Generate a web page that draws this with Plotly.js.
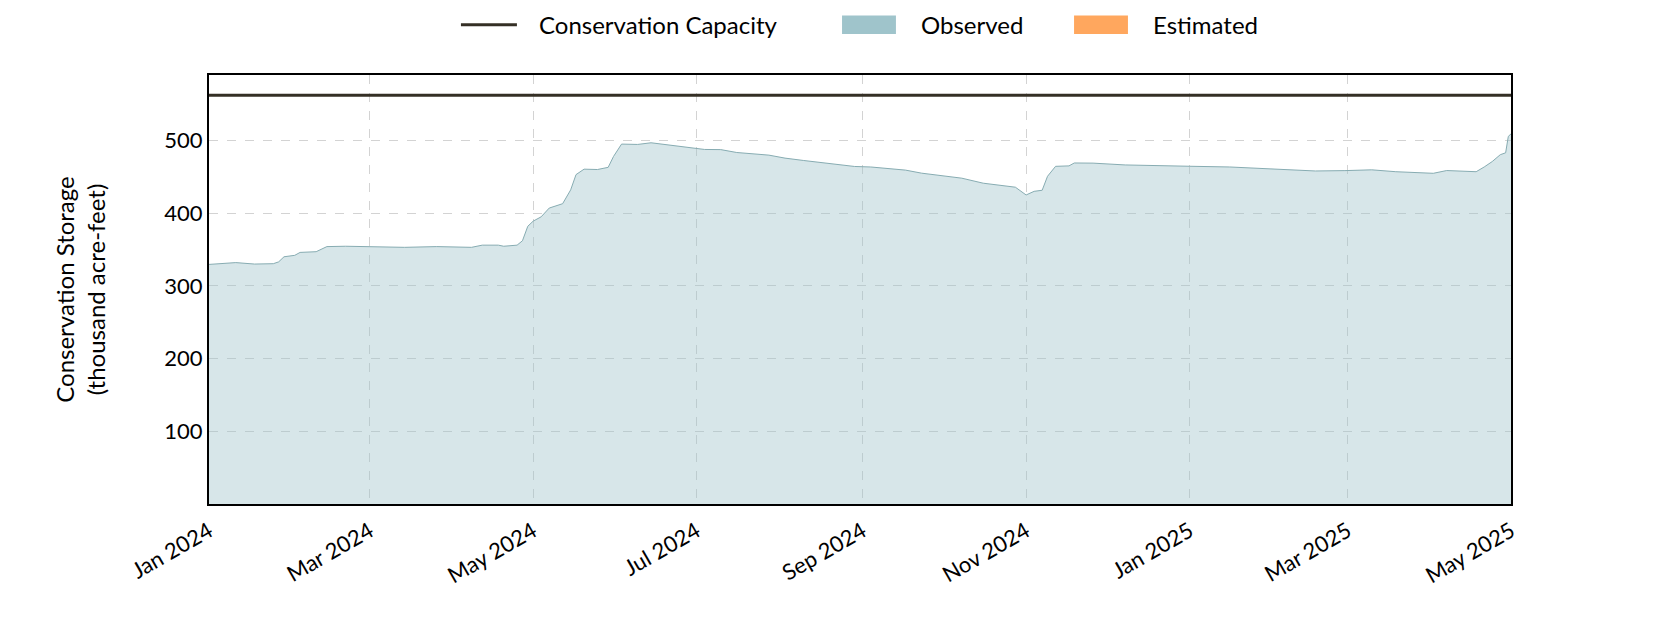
<!DOCTYPE html>
<html>
<head>
<meta charset="utf-8">
<script src="https://cdn.plot.ly/plotly-3.0.1.min.js"></script>
<style>
  body { margin: 0; background: #fff; }
  #chart { width: 1680px; height: 630px; }
</style>
</head>
<body>
<div id="chart"></div>
<script>
// observed conservation storage, thousand acre-feet
const obsDates = [
  '2024-01-01', '2024-01-11', '2024-01-18', '2024-01-25', '2024-01-27', '2024-01-29',
  '2024-02-02', '2024-02-04', '2024-02-10', '2024-02-14', '2024-02-21', '2024-02-27',
  '2024-03-14', '2024-03-26', '2024-04-08', '2024-04-12', '2024-04-18', '2024-04-20',
  '2024-04-25', '2024-04-27', '2024-04-29', '2024-05-01', '2024-05-04', '2024-05-07',
  '2024-05-11', '2024-05-12', '2024-05-15', '2024-05-17', '2024-05-20', '2024-05-25',
  '2024-05-29', '2024-05-31', '2024-06-03', '2024-06-09', '2024-06-14', '2024-06-20',
  '2024-06-28', '2024-07-04', '2024-07-10', '2024-07-16', '2024-07-28', '2024-08-03',
  '2024-08-10', '2024-08-19', '2024-08-29', '2024-09-04', '2024-09-17', '2024-09-23',
  '2024-10-08', '2024-10-16', '2024-10-23', '2024-10-28', '2024-11-01',
  '2024-11-04', '2024-11-07', '2024-11-09', '2024-11-12', '2024-11-17',
  '2024-11-19', '2024-11-26', '2024-12-08', '2024-12-21', '2025-01-01', '2025-01-16',
  '2025-02-01', '2025-02-17', '2025-02-28', '2025-03-10', '2025-03-19', '2025-04-02',
  '2025-04-07', '2025-04-18', '2025-04-21', '2025-04-24', '2025-04-27', '2025-04-29',
  '2025-04-30', '2025-05-01'
];
const obsStorage = [
  329.5, 332, 330, 330.5, 333, 340,
  342, 346, 347, 354, 354.5, 354,
  353, 354, 353, 356, 356, 354.5,
  356, 362, 382, 389, 395, 407,
  412, 413, 432, 453, 460.5, 460,
  463, 478, 495, 494.5, 496.8, 494,
  490.3, 487.6, 487.4, 483.4, 479.8, 475.7,
  472.4, 468.3, 464.2, 463.5, 459.2, 455,
  448.1, 441.2, 438, 435.7, 425,
  430, 431.5, 450.7, 464.4, 465,
  469, 468.8, 466.3, 465, 464.5, 463.5,
  461.2, 458, 458.5, 459.6, 457, 454.8,
  458.6, 457, 463.5, 471, 480.4, 483,
  505.6, 509
];

// no estimated values in this period
const estDates = [];
const estStorage = [];

const capacityDates = ['2024-01-01', '2025-05-01'];
const capacity = [562, 562];

const yTicks = [100, 200, 300, 400, 500];

const capColor = '#342f25';
const obsColor = '#9fc4cb';
const estColor = '#ffa75e';

const font = 'Lato, "Noto Sans", sans-serif';

let capTrace = {
  x: capacityDates,
  y: capacity,
  type: 'scatter',
  mode: 'lines',
  name: 'Conservation Capacity',
  line: { color: capColor, width: 3 },
};

let obsTrace = {
  x: obsDates,
  y: obsStorage,
  type: 'scatter',
  mode: 'lines',
  name: 'Observed',
  fill: 'tozeroy',
  fillcolor: 'rgba(159,196,203,0.42)',
  line: { color: '#87acb2', width: 1 },
};

let estTrace = {
  x: estDates,
  y: estStorage,
  type: 'scatter',
  mode: 'lines',
  name: 'Estimated',
  fill: 'tozeroy',
  fillcolor: estColor,
  line: { color: estColor, width: 0 },
};

// legend drawn by hand so the swatches look like the original boxes
// (positions in paper units of the plot area)
const legendY = 1.117;
const legendItems = [
  { name: 'Conservation Capacity', kind: 'line', color: capColor, x0: 0.1935, x1: 0.2365, tx: 0.2519 },
  { name: 'Observed', kind: 'box', color: obsColor, x0: 0.4862, x1: 0.5276, tx: 0.5453 },
  { name: 'Estimated', kind: 'box', color: estColor, x0: 0.6644, x1: 0.7058, tx: 0.7235 },
];

let shapes = legendItems.map((it) =>
  it.kind === 'line'
    ? {
        type: 'line', xref: 'paper', yref: 'paper',
        x0: it.x0, x1: it.x1, y0: legendY, y1: legendY,
        line: { color: it.color, width: 3 },
      }
    : {
        type: 'rect', xref: 'paper', yref: 'paper',
        x0: it.x0, x1: it.x1, y0: legendY - 0.0215, y1: legendY + 0.0215,
        fillcolor: it.color, line: { width: 0 },
      }
);

let annotations = legendItems.map((it) => ({
  xref: 'paper', yref: 'paper',
  x: it.tx, y: legendY,
  xanchor: 'left', yanchor: 'middle',
  text: it.name,
  showarrow: false,
  font: { family: font, size: 24, color: '#000' },
}));

let layout = {
  width: 1680,
  height: 630,
  margin: { l: 209, r: 169, t: 75, b: 126 },
  paper_bgcolor: '#fff',
  plot_bgcolor: '#fff',
  font: { family: font, size: 22, color: '#000' },
  showlegend: false,
  shapes: shapes,
  annotations: annotations,
  xaxis: {
    type: 'date',
    range: ['2024-01-01', '2025-05-01'],
    tick0: '2024-01-01',
    dtick: 'M2',
    tickformat: '%b %Y',
    tickangle: -30,
    tickfont: { size: 22 },
    ticklabelstandoff: 4,
    showgrid: true,
    gridcolor: '#d3d3d3',
    griddash: 'dash',
    gridwidth: 1.2,
    showline: true,
    mirror: true,
    linecolor: '#000',
    linewidth: 2,
    ticks: '',
    zeroline: false,
  },
  yaxis: {
    range: [0, 590],
    tickvals: yTicks,
    tickfont: { size: 22 },
    showgrid: true,
    gridcolor: '#d3d3d3',
    griddash: 'dash',
    gridwidth: 1.2,
    showline: true,
    mirror: true,
    linecolor: '#000',
    linewidth: 2,
    ticks: '',
    zeroline: false,
    title: {
      text: 'Conservation Storage<br>(thousand acre-feet)',
      font: { family: font, size: 24 },
      standoff: 52,
    },
  },
};

Plotly.newPlot('chart', [capTrace, obsTrace, estTrace], layout, { displayModeBar: false });
</script>
</body>
</html>
